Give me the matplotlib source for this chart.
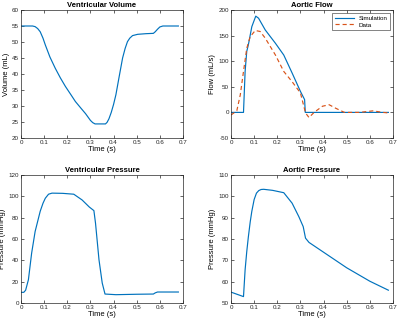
import matplotlib
matplotlib.use("Agg")
import matplotlib.pyplot as plt

# Ventricular volume
vol_t = [0, 0.05, 0.061, 0.072, 0.083, 0.095, 0.105, 0.125, 0.148, 0.17, 0.192, 0.215, 0.235, 0.258, 0.279,
         0.29, 0.30, 0.31, 0.32, 0.365, 0.372, 0.38, 0.39, 0.40, 0.41, 0.425, 0.439, 0.45, 0.46, 0.47,
         0.482, 0.504, 0.54, 0.572, 0.58, 0.59, 0.60, 0.613, 0.68]
vol_v = [55, 55, 54.8, 54.2, 53.2, 51.2, 49.1, 45.3, 41.8, 38.8, 36.1, 33.6, 31.4, 29.4, 27.6,
         26.5, 25.5, 24.8, 24.4, 24.4, 24.9, 26.0, 28.0, 30.5, 33.5, 39.5, 45, 48, 50.1, 51.2,
         52, 52.4, 52.6, 52.7, 53.2, 54.0, 54.7, 55, 55]

# Aortic flow
flow_t = [0, 0.054, 0.061, 0.068, 0.075, 0.09, 0.107, 0.119, 0.148, 0.192, 0.228, 0.264, 0.30, 0.318,
          0.321, 0.68]
flow_v = [0, 0, 80, 119, 132, 167.5, 188, 184, 161, 135, 112, 77, 41, 25,
          0, 0]
data_t = [0, 0.025, 0.04, 0.054, 0.068, 0.083, 0.105, 0.126, 0.148, 0.192, 0.228, 0.264, 0.30,
          0.322, 0.337, 0.359, 0.395, 0.424, 0.453, 0.49, 0.555, 0.613, 0.656, 0.68]
data_v = [-5, 3, 34, 80, 125, 148, 160, 158, 145, 112, 80, 60, 38,
          -1, -10, 0, 12, 15, 8, 0, 0, 3, 0, -1]

# Ventricular pressure
vp_t = [0, 0.012, 0.02, 0.032, 0.046, 0.061, 0.083, 0.095, 0.105, 0.119, 0.134, 0.18, 0.228, 0.264, 0.295,
        0.315, 0.322, 0.337, 0.351, 0.363, 0.41, 0.50, 0.572, 0.58, 0.59, 0.68]
vp_v = [10, 10, 12, 21.8, 46.8, 67, 86, 93.5, 98.2, 102, 103, 102.8, 102, 96.6, 90,
        86.6, 74.8, 40.5, 18.7, 8.4, 7.8, 8.2, 8.4, 9.5, 10.3, 10.3]

# Aortic pressure
ap_t = [0, 0.054, 0.061, 0.068, 0.075, 0.083, 0.09, 0.10, 0.11, 0.12, 0.13, 0.141, 0.18, 0.228, 0.264,
        0.293, 0.312, 0.322, 0.337, 0.40, 0.50, 0.60, 0.68]
ap_v = [55.1, 53, 65.6, 74, 81, 88, 93, 98.5, 101.5, 102.7, 103.2, 103.3, 102.8, 101.7, 96.8,
        90.5, 85.8, 80.4, 78.4, 73.8, 66.5, 60.2, 56]

xticks = [0, 0.1, 0.2, 0.3, 0.4, 0.5, 0.6, 0.7]
xticklabels = ["0", "0.1", "0.2", "0.3", "0.4", "0.5", "0.6", "0.7"]

blue = "#0072BD"
orange = "#D95319"

plt.rcParams['font.family'] = ['Liberation Sans', 'DejaVu Sans']
fig = plt.figure(figsize=(4.0, 3.22), dpi=100)

W, H = 400, 322
def add_ax(l, t, r, b):
    return fig.add_axes([l / W, 1 - b / H, (r - l) / W, (b - t) / H])

axes = [add_ax(21, 10, 183, 138), add_ax(231, 10, 393, 138),
        add_ax(21, 175, 183, 303), add_ax(231, 175, 393, 303)]

def style(ax, title, ylabel, ylim, yticks):
    ax.set_xlim(0, 0.7)
    ax.set_ylim(*ylim)
    ax.set_xticks(xticks)
    ax.set_xticklabels(xticklabels)
    ax.set_yticks(yticks)
    ax.set_yticklabels([str(v) for v in yticks])
    ax.tick_params(direction='in', length=2, width=0.5, labelsize=4.5, colors='#262626',
                   top=True, right=True, pad=1.5)
    for s in ax.spines.values():
        s.set_linewidth(0.5)
        s.set_color('#262626')
    ax.set_title(title, fontsize=5.5, fontweight='bold', pad=2)
    ax.set_xlabel("Time (s)", fontsize=5.5, labelpad=1)
    ax.set_ylabel(ylabel, fontsize=5.5, labelpad=1.5)

ax = axes[0]
ax.plot(vol_t, vol_v, color=blue, lw=0.85)
style(ax, "Ventricular Volume", "Volume (mL)", (20, 60), [20, 25, 30, 35, 40, 45, 50, 55, 60])

ax = axes[1]
ax.plot(flow_t, flow_v, color=blue, lw=0.85, label="Simulation")
ax.plot(data_t, data_v, color=orange, lw=0.85, ls=(0, (3.5, 2.5)), label="Data")
style(ax, "Aortic Flow", "Flow (mL/s)", (-50, 200), [-50, 0, 50, 100, 150, 200])
leg = ax.legend(loc='upper right', fontsize=4.5, frameon=True, fancybox=False,
                borderpad=0.4, handlelength=3, labelspacing=0.2, borderaxespad=0.5)
leg.get_frame().set_linewidth(0.5)
leg.get_frame().set_edgecolor('#262626')

ax = axes[2]
ax.plot(vp_t, vp_v, color=blue, lw=0.85)
style(ax, "Ventricular Pressure", "Pressure (mmHg)", (0, 120), [0, 20, 40, 60, 80, 100, 120])

ax = axes[3]
ax.plot(ap_t, ap_v, color=blue, lw=0.85)
style(ax, "Aortic Pressure", "Pressure (mmHg)", (50, 110), [50, 60, 70, 80, 90, 100, 110])

fig.savefig("out.png", dpi=100)
